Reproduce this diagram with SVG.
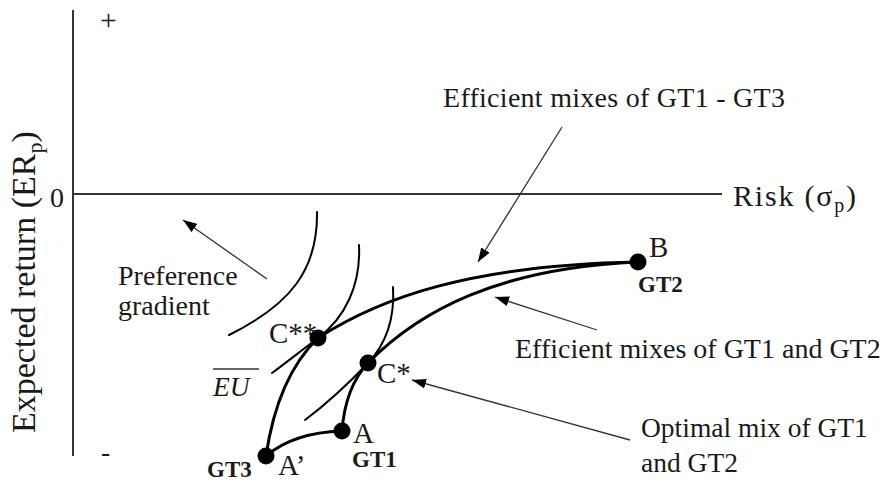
<svg xmlns="http://www.w3.org/2000/svg" width="884" height="482" viewBox="0 0 884 482" font-family="Liberation Serif, Tinos, Times New Roman, DejaVu Serif, serif">
<style>
text{fill:#1a1a1a;}
.lbl{font-size:27.5px;}
.big{font-size:28px;}
.pt{font-size:29px;}
.gt{font-size:23px;font-weight:bold;}
.axis{stroke:#333;stroke-width:2;fill:none;}
.thick{stroke:#000;stroke-width:3;fill:none;stroke-linecap:round;}
.thin{stroke:#000;stroke-width:2;fill:none;stroke-linecap:round;}
.arr{stroke:#333;stroke-width:1.3;fill:none;marker-end:url(#ah);}
.dot{fill:#000;}
</style>
<defs>
<marker id="ah" viewBox="0 0 14 10" markerWidth="14" markerHeight="10" refX="14" refY="5" orient="auto" markerUnits="userSpaceOnUse">
<path d="M0,0 L14,5 L0,10 z" fill="#000"/>
</marker>
</defs>
<rect width="884" height="482" fill="#fff"/>
<g id="axes">
<line class="axis" x1="73" y1="10" x2="73" y2="456"/>
<line class="axis" x1="73" y1="194" x2="722" y2="194"/>
<text x="100" y="30" style="font-size:30px">+</text>
<text x="50" y="207" style="font-size:28px">0</text>
<text class="lbl" x="101" y="461">-</text>
<text x="733" y="206" style="font-size:30px" textLength="123" lengthAdjust="spacing">Risk (σ<tspan dy="6" style="font-size:20px">p</tspan><tspan dy="-6">)</tspan></text>
<text transform="translate(35,433) rotate(-90)" style="font-size:34px">Expected return (ER<tspan dy="7" style="font-size:22px">p</tspan><tspan dy="-7">)</tspan></text>
</g>
<g id="connectors">
<path class="thick" d="M266,456 C285,440 310,432 342,431"/>
<path class="thick" d="M266,456 C272,415 285,370 318,338"/>
<path class="thick" d="M318,338 C380,298 470,265 638,262"/>
<path class="thick" d="M342,431 C344,405 352,380 368,363"/>
<path class="thick" d="M368,363 C420,310 500,268 638,262"/>
<path class="thin" d="M317,212 C318,270 290,305 229,335"/>
<path class="thin" d="M359,245 C361,285 345,318 318,338 C302,350 287,362 272,373"/>
<path class="thin" d="M393,287 C395,320 385,345 368,363 C350,382 325,405 305,420"/>
<line class="arr" x1="267" y1="279" x2="183" y2="220"/>
<line class="arr" x1="562" y1="127" x2="478" y2="262"/>
<line class="arr" x1="597" y1="330" x2="495" y2="297"/>
<line class="arr" x1="630" y1="440" x2="412" y2="380"/>
</g>
<g id="node-B">
<circle class="dot" cx="638" cy="262" r="8.5"/>
<text class="pt" x="649" y="257">B</text>
<text class="gt" x="638" y="292">GT2</text>
</g>
<g id="node-A">
<circle class="dot" cx="342" cy="431" r="8.5"/>
<text class="pt" x="353" y="443">A</text>
<text class="gt" x="352" y="467">GT1</text>
</g>
<g id="node-A-prime">
<circle class="dot" cx="266" cy="456" r="8.5"/>
<text class="pt" x="278" y="475">A’</text>
<text class="gt" x="207" y="477">GT3</text>
</g>
<g id="node-Cstarstar">
<circle class="dot" cx="318" cy="338" r="8.5"/>
<text class="pt" x="269" y="343">C**</text>
</g>
<g id="node-Cstar">
<circle class="dot" cx="368" cy="363" r="8.5"/>
<text class="pt" x="377" y="383">C*</text>
</g>
<g id="labels">
<text class="big" x="118" y="285">Preference</text>
<text class="big" x="118" y="315">gradient</text>
<text class="lbl" x="213" y="396" style="font-style:italic">EU</text>
<line x1="213" y1="369" x2="259" y2="369" stroke="#333" stroke-width="1.5"/>
<text class="big" x="443" y="107" textLength="342" lengthAdjust="spacing">Efficient mixes of GT1 - GT3</text>
<text class="big" x="515" y="358">Efficient mixes of GT1 and GT2</text>
<text class="lbl" x="641" y="437">Optimal mix of GT1</text>
<text class="lbl" x="641" y="472">and GT2</text>
</g>
</svg>
